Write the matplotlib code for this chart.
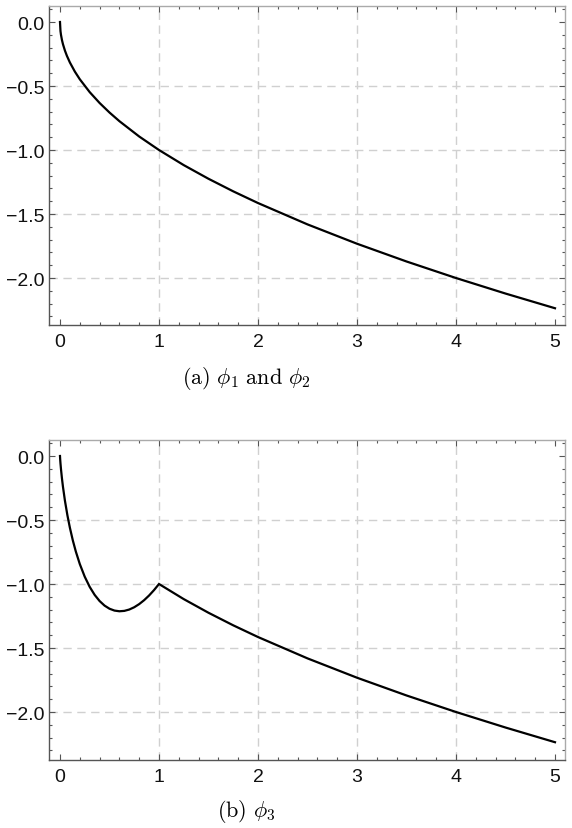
# -*- coding: utf-8 -*-

import matplotlib
matplotlib.use("Agg")
import matplotlib.pyplot as plt
from matplotlib.ticker import MultipleLocator

# values
phi12_x = [0.0, 0.005, 0.01, 0.02, 0.03, 0.05, 0.07, 0.1, 0.15, 0.2, 0.3, 0.4,
           0.5, 0.6, 0.8, 1.0, 1.25, 1.5, 1.75, 2.0, 2.5, 3.0, 3.5, 4.0, 4.5, 5.0]
phi12_y = [0.0, -0.0707, -0.1, -0.1414, -0.1732, -0.2236, -0.2646, -0.3162,
           -0.3873, -0.4472, -0.5477, -0.6325, -0.7071, -0.7746, -0.8944, -1.0,
           -1.118, -1.2247, -1.3229, -1.4142, -1.5811, -1.7321, -1.8708, -2.0,
           -2.1213, -2.2361]

phi3_x = [0.0, 0.002, 0.005, 0.01, 0.02, 0.03, 0.05, 0.075, 0.1, 0.13, 0.16,
          0.2, 0.25, 0.3, 0.35, 0.4, 0.45, 0.5, 0.55, 0.6, 0.65, 0.7, 0.75,
          0.8, 0.85, 0.9, 0.95, 1.0, 1.25, 1.5, 1.75, 2.0, 2.5, 3.0, 3.5, 4.0,
          4.5, 5.0]
phi3_y = [0.0, -0.0269, -0.058, -0.1021, -0.1765, -0.2404, -0.3496, -0.4635,
          -0.5605, -0.6605, -0.7464, -0.8438, -0.9431, -1.0224, -1.0849,
          -1.133, -1.1687, -1.1931, -1.2076, -1.213, -1.21, -1.1994, -1.1815,
          -1.157, -1.1263, -1.0897, -1.0475, -1.0, -1.118, -1.2247, -1.3229,
          -1.4142, -1.5811, -1.7321, -1.8708, -2.0, -2.1213, -2.2361]

x_ticks = [0, 1, 2, 3, 4, 5]
y_ticks = [0.0, -0.5, -1.0, -1.5, -2.0]
x_grid = [1, 2, 3, 4]
y_grid = [-0.5, -1.0, -1.5, -2.0]

captions = [r"$\mathrm{(a)}\ \phi_1\ \mathrm{and}\ \phi_2$",
            r"$\mathrm{(b)}\ \phi_3$"]

plt.rcParams["font.family"] = ["Liberation Sans", "DejaVu Sans"]
plt.rcParams["mathtext.fontset"] = "cm"


def style_axes(ax, ylim):
    ax.set_xlim(-0.111, 5.101)
    ax.set_ylim(ylim)

    for x in x_grid:
        ax.axvline(x, color="#d0d0d0", lw=1.0, dashes=(6, 4), zorder=0)
    for y in y_grid:
        ax.axhline(y, color="#d0d0d0", lw=1.0, dashes=(6, 4), zorder=0)

    ax.set_xticks(x_ticks)
    ax.set_yticks(y_ticks)
    ax.set_xticklabels(["%d" % t for t in x_ticks])
    ax.set_yticklabels([("%.1f" % t).replace("-", "\u2212") for t in y_ticks])
    ax.xaxis.set_minor_locator(MultipleLocator(0.2))
    ax.yaxis.set_minor_locator(MultipleLocator(0.1))

    ax.tick_params(which="both", direction="in", top=True, right=True,
                   color="#555555", width=0.8, labelsize=14, labelcolor="#111111")
    ax.tick_params(which="major", length=4.5)
    ax.tick_params(which="minor", length=2.5)
    ax.tick_params(axis="y", pad=3)
    ax.tick_params(axis="x", pad=6)

    ax.spines["left"].set_color("#555555")
    ax.spines["bottom"].set_color("#555555")
    ax.spines["top"].set_color("#aaaaaa")
    ax.spines["right"].set_color("#aaaaaa")
    for s in ax.spines.values():
        s.set_linewidth(1.0)


def main():
    fig = plt.figure(figsize=(5.72, 8.29), dpi=100)

    ax1 = fig.add_axes([49 / 572, 1 - 326 / 829, 516 / 572, 319 / 829])
    ax1.plot(phi12_x, phi12_y, color="black", lw=1.6, solid_joinstyle="round")
    style_axes(ax1, (-2.367, 0.125))

    ax2 = fig.add_axes([49 / 572, 1 - 761 / 829, 516 / 572, 320 / 829])
    ax2.plot(phi3_x, phi3_y, color="black", lw=1.6, solid_joinstyle="miter")
    style_axes(ax2, (-2.375, 0.125))

    fig.text(246 / 572, 1 - 378 / 829, captions[0], ha="center", va="center",
             fontsize=16)
    fig.text(246 / 572, 1 - 812 / 829, captions[1], ha="center", va="center",
             fontsize=16)

    fig.savefig("out.png", dpi=100)
    return 0


if __name__ == "__main__":
    main()
